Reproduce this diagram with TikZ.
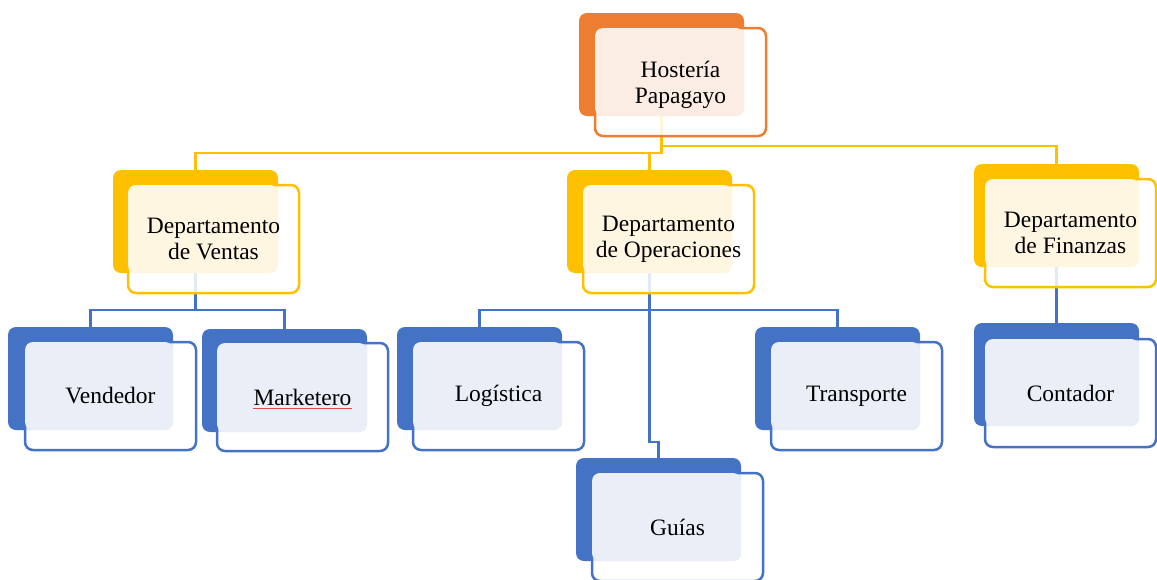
\documentclass[tikz,border=0pt]{standalone}
\usepackage{fontspec}
\setmainfont{Liberation Serif}
\definecolor{corange}{HTML}{ED7D31}
\definecolor{corangeL}{HTML}{FCEDE4}
\definecolor{cyellow}{HTML}{FFC000}
\definecolor{cyellowL}{HTML}{FFF6E2}
\definecolor{cblue}{HTML}{4472C4}
\definecolor{cblueL}{HTML}{E9EEF7}
\definecolor{spellred}{HTML}{E8474A}
\tikzset{
  backbox/.style={rounded corners=8pt, minimum width=165pt, minimum height=103pt,
    inner sep=0pt, outer sep=0pt, fill=#1, draw=none, anchor=north west},
  frontbox/.style={rounded corners=8pt, minimum width=171pt, minimum height=108pt,
    inner sep=0pt, outer sep=0pt, draw=#1, line width=2.5pt, fill=white,
    fill opacity=0.85, draw opacity=1, anchor=north west},
  lab/.style={font=\fontsize{23.5}{26}\selectfont, align=center, text=black, inner sep=0pt},
  ylink/.style={draw=cyellow, line width=2.6pt},
  blink/.style={draw=cblue, line width=2.3pt},
}
% \orgcard[text shift]{name}{back x,y}{front x,y}{colour}{light colour}{text}
\newcommand{\orgcard}[7][0pt]{%
  \node[frontbox=#5] (#2-f) at (#4) {};
  \fill[#6, rounded corners=8pt] (#2-f.north west) rectangle (#2-b.south east);
  \node[lab] (#2) at ([yshift=-#1]#2-f.center) {#7};
}
\begin{document}
\begin{tikzpicture}[x=1pt, y=-1pt]
\useasboundingbox (0,0) rectangle (1157,579);
% back boxes
\node[backbox=corange] (h-b) at (579,13) {};
\node[backbox=cyellow] (vt-b) at (113,170) {};
\node[backbox=cyellow] (op-b) at (567,170) {};
\node[backbox=cyellow] (fi-b) at (974,164) {};
\node[backbox=cblue] (vend-b) at (8,327) {};
\node[backbox=cblue] (mark-b) at (202,329) {};
\node[backbox=cblue] (log-b) at (397,327) {};
\node[backbox=cblue] (tr-b) at (755,327) {};
\node[backbox=cblue] (gu-b) at (576,458) {};
\node[backbox=cblue] (co-b) at (974,323) {};
% connectors
\draw[ylink] (h-b.south) -- ++(0,37) -| (vt-b.north);
\draw[ylink] (h-b.south) -- ++(0,37) -| (op-b.north);
\draw[ylink] (h-b.south) -- ++(0,30) -| (fi-b.north);
\draw[blink] (vt-b.south) -- ++(0,37) -| (vend-b.north);
\draw[blink] (vt-b.south) -- ++(0,37) -| (mark-b.north);
\draw[blink] (op-b.south) -- ++(0,37) -| (log-b.north);
\draw[blink] (op-b.south) -- ++(0,37) -| (tr-b.north);
\draw[blink] (op-b.south) -- ++(0,169) -| (gu-b.north);
\draw[blink] (fi-b.south) -- (co-b.north);
% front boxes and texts
\orgcard[3pt]{h}{579,13}{595,28}{corange}{corangeL}{Hostería\\Papagayo}
\orgcard{vt}{113,170}{128,185}{cyellow}{cyellowL}{Departamento\\de Ventas}
\orgcard{op}{567,170}{583,185}{cyellow}{cyellowL}{Departamento\\de Operaciones}
\orgcard{fi}{974,164}{985,179}{cyellow}{cyellowL}{Departamento\\de Finanzas}
\orgcard{vend}{8,327}{25,342}{cblue}{cblueL}{Vendedor}
\orgcard{mark}{202,329}{217,343}{cblue}{cblueL}{Marketero}
\orgcard{log}{397,327}{413,342}{cblue}{cblueL}{Logística}
\orgcard{tr}{755,327}{771,342}{cblue}{cblueL}{Transporte}
\orgcard{gu}{576,458}{592,473}{cblue}{cblueL}{Guías}
\orgcard{co}{974,323}{985,339}{cblue}{cblueL}{Contador}
\draw[spellred, line width=0.7pt] ([yshift=-3pt]mark.base west) -- ([yshift=-3pt]mark.base east);
\end{tikzpicture}
\end{document}
